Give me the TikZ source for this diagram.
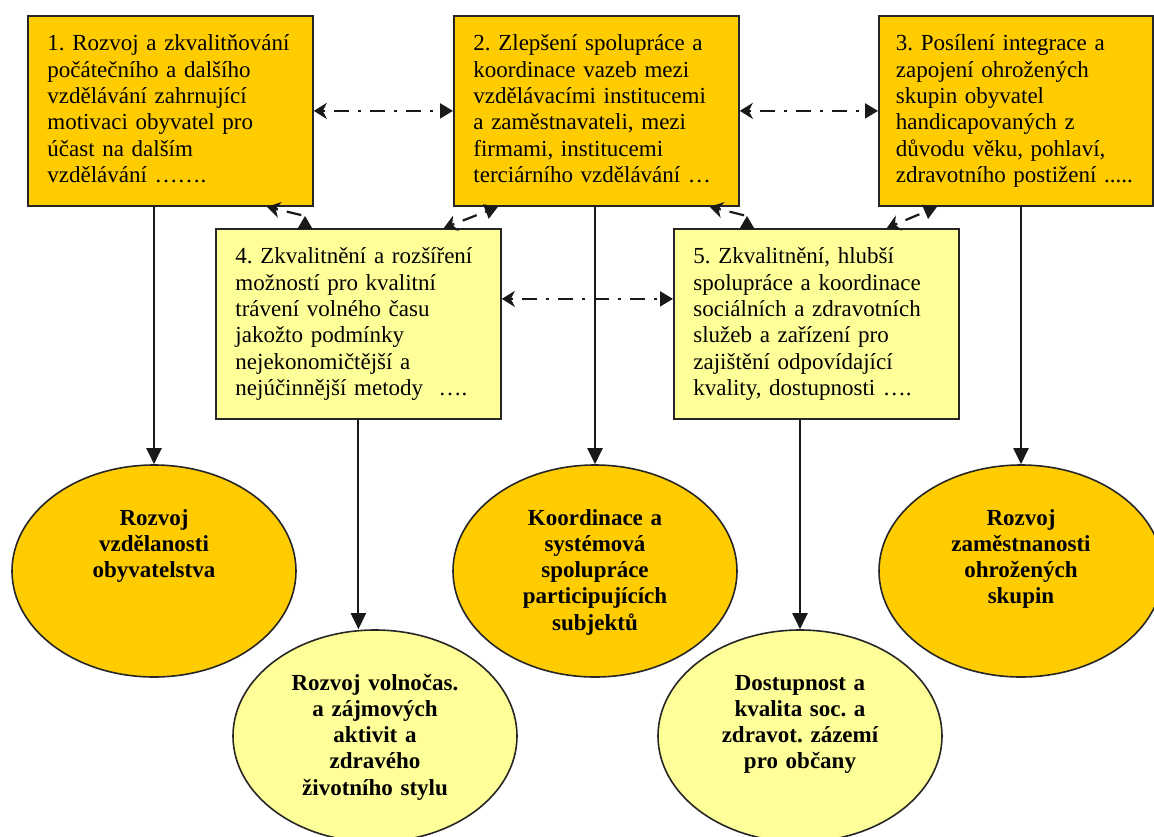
\documentclass[tikz,border=0pt]{standalone}
\usepackage{fontspec}
\setmainfont{Liberation Serif}
\usetikzlibrary{arrows.meta,shapes.geometric,calc}
\definecolor{gold}{HTML}{FFCC00}
\definecolor{pale}{HTML}{FFFF99}
\begin{document}
\begin{tikzpicture}[x=1pt,y=-1pt,
  topbox/.style={draw=black!85, line width=1.8pt, rectangle, anchor=north west,
    text width=246pt, align=left, inner xsep=19.5pt, inner ysep=0pt,
    text height=35pt, text depth=155pt, font=\fontsize{23pt}{26.3pt}\selectfont\frenchspacing},
  ell/.style={draw=black!85, line width=1.6pt, ellipse, inner sep=0pt,
    minimum width=284pt, minimum height=212pt, text width=196pt, align=center,
    text height=0pt, text depth=92pt, font=\fontsize{23pt}{26.3pt}\selectfont\bfseries\frenchspacing},
  arr/.style={draw=black!90, line width=2pt, -{Triangle[length=16pt,width=15pt]}},
  dd/.style={draw=black!90, line width=2.2pt, dash pattern=on 3pt off 9pt on 15pt off 9pt,
    {Stealth[length=13pt,width=16pt,inset=4pt]}-{Triangle[length=13pt,width=15pt]}},
  ddl/.style={draw=black!90, line width=2.2pt, dash pattern=on 3pt off 9pt on 15pt off 9pt,
    {Stealth[length=13pt,width=16pt,inset=4pt]}-},
  uptip/.style={draw=black!90, line width=1pt, -{Triangle[length=13pt,width=15pt]}}
]
\useasboundingbox (0,0) rectangle (1154,836);

% top boxes
\node[topbox, fill=gold] (b1) at (27,15) {1. Rozvoj a zkvalitňování\\počátečního a dalšího\\vzdělávání zahrnující\\motivaci obyvatel pro\\účast na dalším\\vzdělávání …….};
\node[topbox, fill=gold] (b2) at (453,15) {2. Zlepšení spolupráce a\\koordinace vazeb mezi\\vzdělávacími institucemi\\a zaměstnavateli, mezi\\firmami, institucemi\\terciárního vzdělávání …};
\node[topbox, fill=gold, text width=240pt, inner xsep=17pt] (b3) at (878,15) {3. Posílení integrace a\\zapojení ohrožených\\skupin obyvatel\\handicapovaných z\\důvodu věku, pohlaví,\\zdravotního postižení .....};
\node[topbox, fill=pale] (b4) at (215,228) {4. Zkvalitnění a rozšíření\\možností pro kvalitní\\trávení volného času\\jakožto podmínky\\nejekonomičtější a\\nejúčinnější metody ~….};
\node[topbox, fill=pale] (b5) at (673,228) {5. Zkvalitnění, hlubší\\spolupráce a koordinace\\sociálních a zdravotních\\služeb a zařízení pro\\zajištění odpovídající\\kvality, dostupnosti ….};

% ellipses
\node[ell, fill=gold] (e1) at (154,571) {Rozvoj\\vzdělanosti\\obyvatelstva};
\node[ell, fill=gold] (e2) at (595,571) {Koordinace a\\systémová\\spolupráce\\participujících\\subjektů};
\node[ell, fill=gold] (e3) at (1021,571) {Rozvoj\\zaměstnanosti\\ohrožených\\skupin};
\node[ell, fill=pale] (e4) at (375,736) {Rozvoj volnočas.\\a zájmových\\aktivit a\\zdravého\\životního stylu};
\node[ell, fill=pale] (e5) at (800,736) {Dostupnost a\\kvalita soc. a\\zdravot. zázemí\\pro občany};

% solid arrows
\draw[arr] (b1.south -| e1.north) -- (e1.north);
\draw[arr] (b4.south) -- (b4.south |- e4.north);
\draw[arr] (b2.south -| e2.north) -- (e2.north);
\draw[arr] (b5.south -| e5.north) -- (e5.north);
\draw[arr] (b3.south -| e3.north) -- (e3.north);

% dash-dot horizontal links
\draw[dd] (b1.east) -- (b2.west);
\draw[dd] (b2.east) -- (b3.west);
\draw[dd] ([yshift=25pt]b4.east) -- ([yshift=25pt]b5.west);

% short diagonal links
\draw[dd] ([xshift=-58pt]b4.north east) -- ([xshift=45pt]b2.south west);
\draw[dd] ([xshift=-73pt]b5.north east) -- ([xshift=59pt]b3.south west);

\coordinate (d14a) at ([xshift=240pt]b1.south west);
\coordinate (d14t) at ([xshift=90pt,yshift=12pt]b4.north west);
\draw[ddl] (d14a) -- (d14t);
\draw[uptip] (d14t |- b4.north) -- (d14t);

\coordinate (d25a) at ([xshift=-30pt]b2.south east);
\coordinate (d25t) at ([xshift=74pt,yshift=12pt]b5.north west);
\draw[ddl] (d25a) -- (d25t);
\draw[uptip] (d25t |- b5.north) -- (d25t);
\end{tikzpicture}
\end{document}
